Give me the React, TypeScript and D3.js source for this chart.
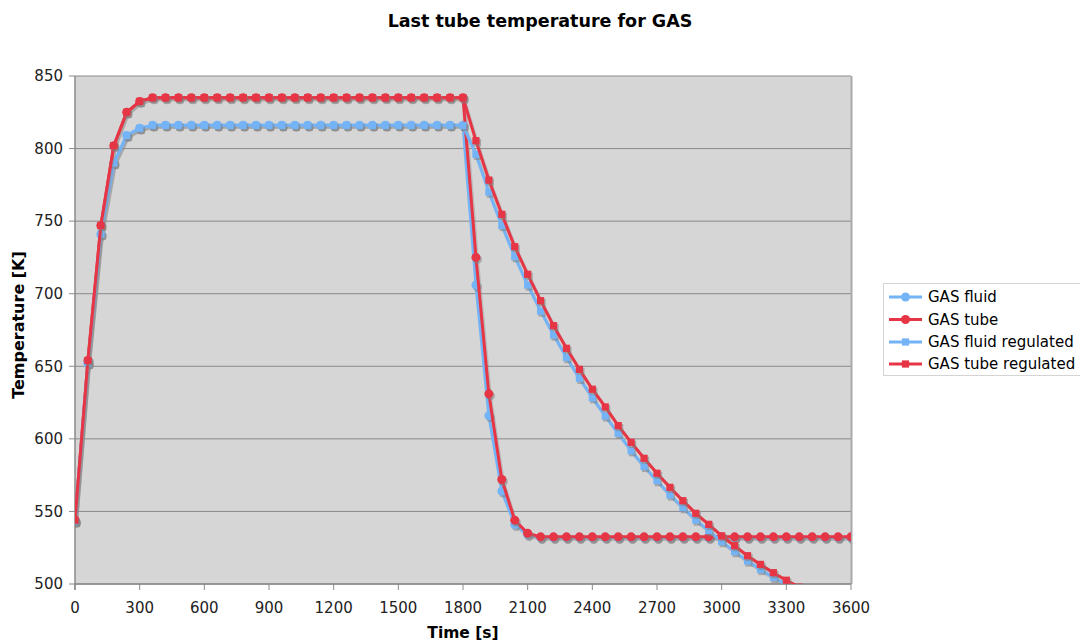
import React, { useEffect } from 'react';
import * as d3 from 'd3';

const times = [
  0, 60, 120, 180, 240, 300, 360, 420, 480, 540, 600, 660, 720, 780, 840, 900,
  960, 1020, 1080, 1140, 1200, 1260, 1320, 1380, 1440, 1500, 1560, 1620, 1680, 1740, 1800,
  1860, 1920, 1980, 2040, 2100, 2160, 2220, 2280, 2340, 2400, 2460, 2520, 2580, 2640, 2700,
  2760, 2820, 2880, 2940, 3000, 3060, 3120, 3180, 3240, 3300, 3360, 3420, 3480, 3540, 3600,
];

const gasFluid = [
  543, 652, 741, 790, 809, 814, 816, 816, 816, 816, 816, 816, 816, 816, 816, 816,
  816, 816, 816, 816, 816, 816, 816, 816, 816, 816, 816, 816, 816, 816, 816,
  706, 616, 564, 541, 534, 532, 532, 532, 532, 532, 532, 532, 532, 532, 532,
  532, 532, 532, 532, 532, 532, 532, 532, 532, 532, 532, 532, 532, 532, 532,
];

const gasTube = [
  544, 654, 747, 802, 825, 832.5, 835, 835, 835, 835, 835, 835, 835, 835, 835, 835,
  835, 835, 835, 835, 835, 835, 835, 835, 835, 835, 835, 835, 835, 835, 835,
  725, 631, 572, 544, 535, 532.5, 532.5, 532.5, 532.5, 532.5, 532.5, 532.5, 532.5, 532.5, 532.5,
  532.5, 532.5, 532.5, 532.5, 532.5, 532.5, 532.5, 532.5, 532.5, 532.5, 532.5, 532.5, 532.5, 532.5, 532.5,
];

const gasFluidReg = [
  543, 652, 741, 790, 809, 814, 816, 816, 816, 816, 816, 816, 816, 816, 816, 816,
  816, 816, 816, 816, 816, 816, 816, 816, 816, 816, 816, 816, 816, 816, 816,
  796, 770, 747, 725.5, 706, 688, 671.5, 656, 641.7, 628.3, 615.7, 603.8, 591.8, 581, 571.2,
  561.3, 552.6, 544, 536.8, 529.2, 522.3, 515.8, 510, 504.5, 499.8, 495, 490.5, 486, 482, 478,
];

const gasTubeReg = [
  544, 654, 747, 802, 825, 832.5, 835, 835, 835, 835, 835, 835, 835, 835, 835, 835,
  835, 835, 835, 835, 835, 835, 835, 835, 835, 835, 835, 835, 835, 835, 835,
  805.4, 778.3, 754.7, 732.4, 713.4, 695.2, 678, 662.4, 647.9, 634.2, 622, 609.1, 597.6, 586.6, 576.3,
  566.6, 557.4, 548.7, 541.1, 533.1, 526.4, 519.5, 513.5, 507.8, 502.6, 497.8, 493, 488.5, 484, 480,
];

const xTicks = [0, 300, 600, 900, 1200, 1500, 1800, 2100, 2400, 2700, 3000, 3300, 3600];
const yTicks = [500, 550, 600, 650, 700, 750, 800, 850];

const BLUE = '#74b4f6';
const RED = '#e63545';
const FONT = '"DejaVu Sans", Verdana, sans-serif';

const series = [
  { name: 'GAS fluid', values: gasFluid, color: BLUE, marker: 'circle' },
  { name: 'GAS tube', values: gasTube, color: RED, marker: 'circle' },
  { name: 'GAS fluid regulated', values: gasFluidReg, color: BLUE, marker: 'square' },
  { name: 'GAS tube regulated', values: gasTubeReg, color: RED, marker: 'square' },
];

const Marker: React.FC<{ kind: string; x: number; y: number; fill: string; opacity?: number }> = ({ kind, x, y, fill, opacity }) =>
  kind === 'circle'
    ? <circle cx={x} cy={y} r={4.5} fill={fill} opacity={opacity} />
    : <rect x={x - 3.6} y={y - 3.6} width={7.2} height={7.2} fill={fill} opacity={opacity} />;

export default function App() {
  useEffect(() => {
    document.body.style.margin = '0';
  }, []);

  const width = 1080;
  const height = 641;
  const plot = { left: 75, right: 851, top: 76, bottom: 584 };

  const x = d3.scaleLinear().domain([0, 3600]).range([plot.left, plot.right]);
  const y = d3.scaleLinear().domain([500, 850]).range([plot.bottom, plot.top]);

  const line = d3.line<number>()
    .x((_, i) => x(times[i]))
    .y((d) => y(d));

  const legendY = [297, 319.5, 342, 364];

  return (
    <svg width={width} height={height} style={{ display: 'block', background: '#fff' }} fontFamily={FONT}>
      <defs>
        <clipPath id="plotClip">
          <rect x={plot.left} y={plot.top} width={plot.right - plot.left} height={plot.bottom - plot.top} />
        </clipPath>
      </defs>

      <text x={540} y={27} textAnchor="middle" fontSize={17.5} fontWeight="bold" fill="#000">
        Last tube temperature for GAS
      </text>

      {/* plot background */}
      <rect x={plot.left} y={plot.top} width={plot.right - plot.left} height={plot.bottom - plot.top} fill="#d6d6d6" />

      {/* grid */}
      {yTicks.map((t) => (
        <line key={'g' + t} x1={plot.left} x2={plot.right} y1={y(t)} y2={y(t)} stroke="#8a8a8a" strokeWidth={1} />
      ))}
      <line x1={plot.right + 0.5} x2={plot.right + 0.5} y1={plot.top} y2={plot.bottom} stroke="#a9a9a9" strokeWidth={2} />

      {/* axes */}
      <line x1={plot.left} x2={plot.left} y1={plot.top} y2={plot.bottom + 6} stroke="#8a8a8a" strokeWidth={1.5} />
      <line x1={plot.left} x2={plot.right} y1={plot.bottom} y2={plot.bottom} stroke="#8a8a8a" strokeWidth={1.5} />
      {yTicks.map((t) => (
        <g key={'y' + t}>
          <line x1={plot.left - 6} x2={plot.left} y1={y(t)} y2={y(t)} stroke="#8a8a8a" />
          <text x={63} y={y(t)} dy="0.35em" textAnchor="end" fontSize={15} fill="#222">{t}</text>
        </g>
      ))}
      {xTicks.map((t) => (
        <g key={'x' + t}>
          <line x1={x(t)} x2={x(t)} y1={plot.bottom} y2={plot.bottom + 6} stroke="#8a8a8a" />
          <text x={x(t)} y={613} textAnchor="middle" fontSize={15} fill="#222">{t}</text>
        </g>
      ))}

      <text x={463} y={638} textAnchor="middle" fontSize={15.5} fontWeight="bold" fill="#000">Time [s]</text>
      <text transform={`translate(24,${325}) rotate(-90)`} textAnchor="middle" fontSize={16} fontWeight="bold" fill="#000">
        Temperature [K]
      </text>

      {/* series */}
      <g clipPath="url(#plotClip)">
        {series.map((s) => (
          <g key={s.name}>
            <path d={line(s.values) ?? ''} transform="translate(1.5,2)" fill="none" stroke="#888" strokeOpacity={0.35} strokeWidth={3} />
            <path d={line(s.values) ?? ''} fill="none" stroke={s.color} strokeWidth={3} strokeLinejoin="round" />
            {s.values.map((v, i) => (
              <Marker key={'s' + i} kind={s.marker} x={x(times[i]) + 1.5} y={y(v) + 2} fill="#808080" opacity={0.55} />
            ))}
            {s.values.map((v, i) => (
              <Marker key={'m' + i} kind={s.marker} x={x(times[i])} y={y(v)} fill={s.color} />
            ))}
          </g>
        ))}
      </g>

      {/* legend */}
      <rect x={883.5} y={283.5} width={200} height={92} fill="#fff" stroke="#d4d4d4" />
      {series.map((s, i) => (
        <g key={'l' + s.name}>
          <line x1={889} x2={922} y1={legendY[i]} y2={legendY[i]} stroke={s.color} strokeWidth={3} />
          <Marker kind={s.marker} x={905.5} y={legendY[i]} fill={s.color} />
          <text x={928} y={legendY[i]} dy="0.35em" fontSize={15} fill="#000">{s.name}</text>
        </g>
      ))}
    </svg>
  );
}
